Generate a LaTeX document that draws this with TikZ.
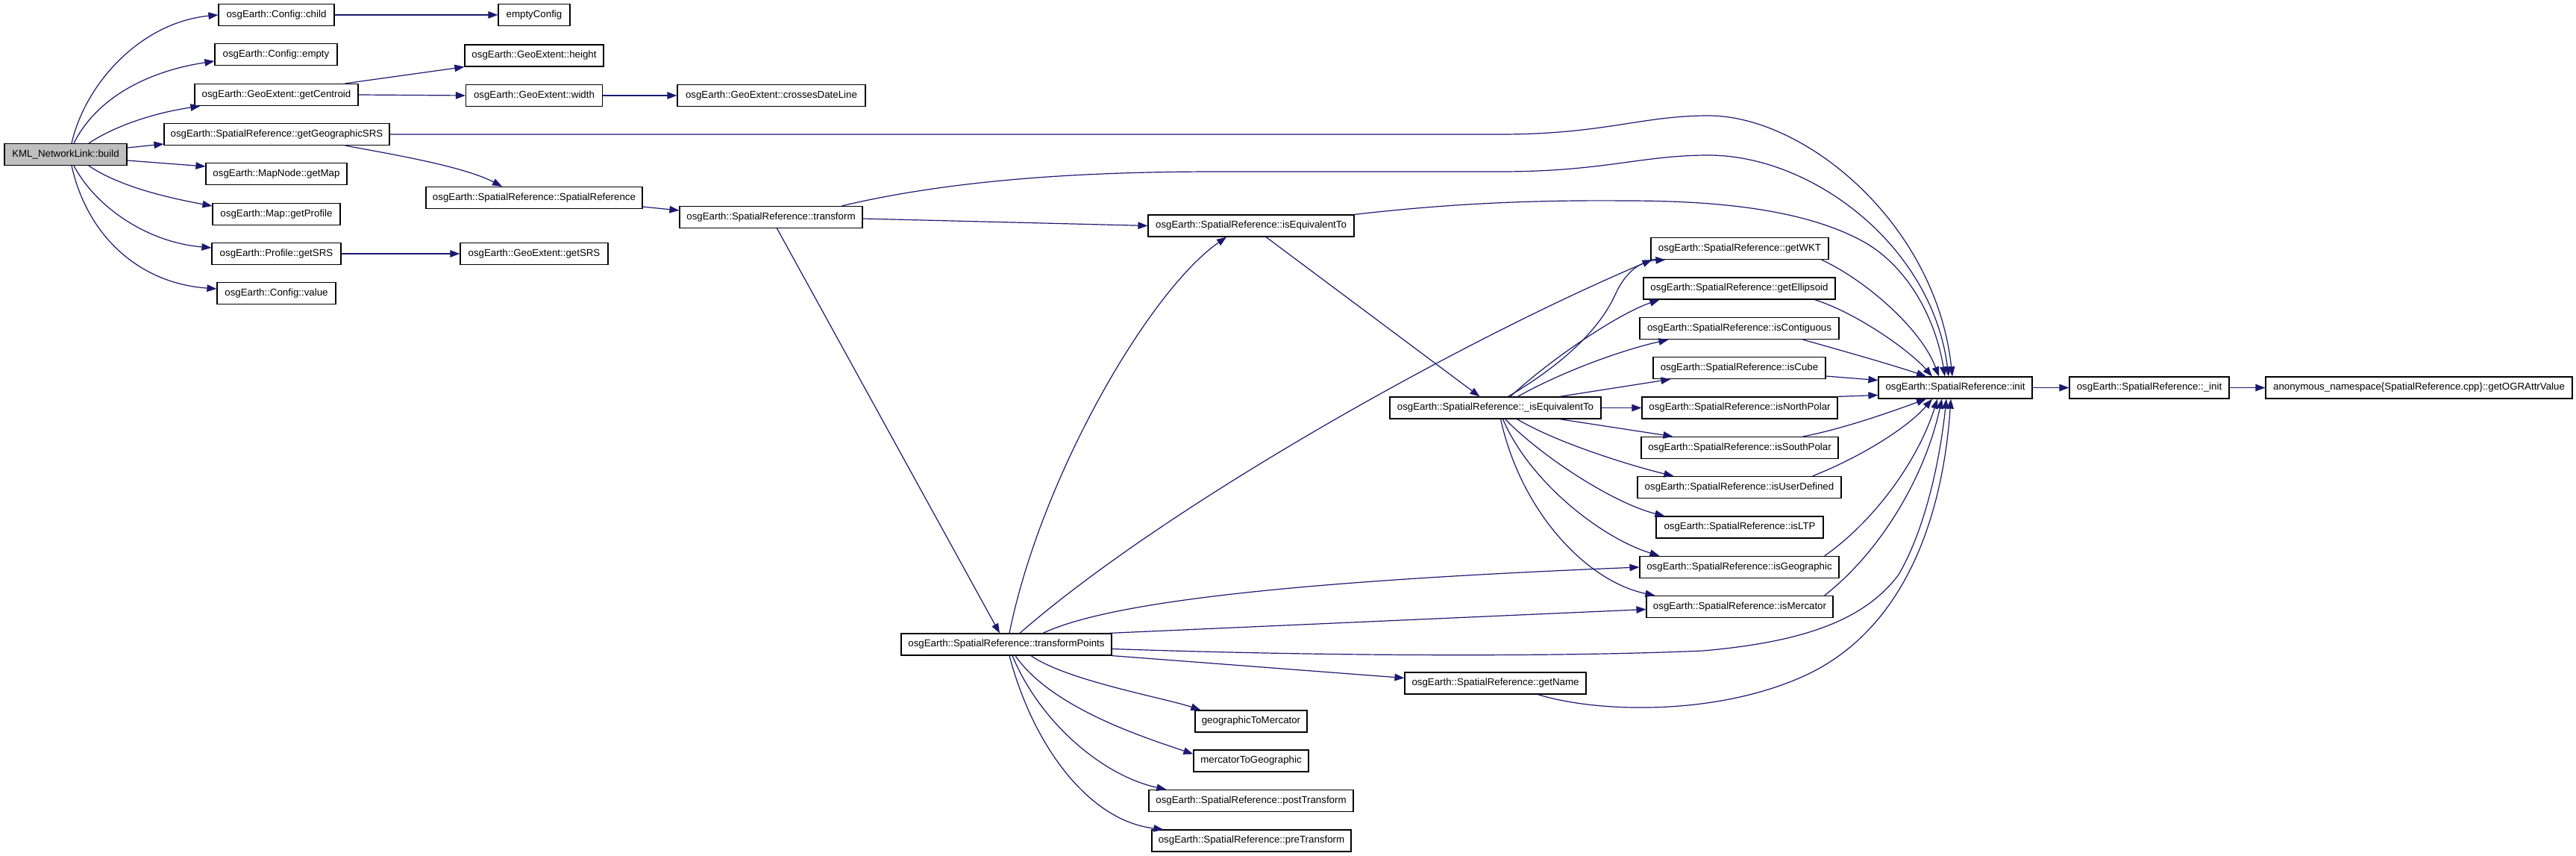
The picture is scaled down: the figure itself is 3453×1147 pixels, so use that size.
\documentclass[tikz,border=0pt]{standalone}
\usepackage{fontspec}
\setmainfont{Liberation Sans}
\usetikzlibrary{arrows.meta}
\definecolor{edgec}{HTML}{191970}
\definecolor{buildfill}{HTML}{BFBFBF}
\tikzset{
 fn/.style={draw=black, line width=1.2pt, fill=white, inner sep=0pt, minimum height=29pt, font=\fontsize{13.3}{16}\selectfont, anchor=center},
 edge/.style={draw=edgec, line width=1.2pt, -{Triangle[length=13pt,width=9.5pt]}},
}
\begin{document}
\begin{tikzpicture}[x=1pt,y=-1pt]
\useasboundingbox (0,0) rectangle (3453,1147);
\fill[white] (0,0) rectangle (3453,1147);
% nodes
\node[fn, minimum width=164pt, fill=buildfill] (build) at (88,207) {KML\_NetworkLink::build};
\node[fn, minimum width=155pt] (child) at (370.5,20) {osgEarth::Config::child};
\node[fn, minimum width=96pt] (emptyConfig) at (716,20) {emptyConfig};
\node[fn, minimum width=164pt] (cempty) at (370,73) {osgEarth::Config::empty};
\node[fn, minimum width=186pt] (gheight) at (716,74.5) {osgEarth::GeoExtent::height};
\node[fn, minimum width=219pt] (centroid) at (370.5,127) {osgEarth::GeoExtent::getCentroid};
\node[fn, minimum width=183pt] (gwidth) at (716,128) {osgEarth::GeoExtent::width};
\node[fn, minimum width=252pt] (dateline) at (1034,128) {osgEarth::GeoExtent::crossesDateLine};
\node[fn, minimum width=302pt] (geosrs) at (371,180) {osgEarth::SpatialReference::getGeographicSRS};
\node[fn, minimum width=189pt] (getmap) at (370.5,233) {osgEarth::MapNode::getMap};
\node[fn, minimum width=290pt] (ctor) at (716,265) {osgEarth::SpatialReference::SpatialReference};
\node[fn, minimum width=245pt] (transform) at (1033.5,291) {osgEarth::SpatialReference::transform};
\node[fn, minimum width=171pt] (profile) at (370.5,287) {osgEarth::Map::getProfile};
\node[fn, minimum width=173pt] (psrs) at (370.5,340) {osgEarth::Profile::getSRS};
\node[fn, minimum width=198pt] (gsrs) at (716,340) {osgEarth::GeoExtent::getSRS};
\node[fn, minimum width=159pt] (cvalue) at (370.5,393) {osgEarth::Config::value};
\node[fn, minimum width=276pt] (isequiv) at (1677,302.5) {osgEarth::SpatialReference::isEquivalentTo};
\node[fn, minimum width=283pt] (uisequiv) at (2004.5,546.5) {osgEarth::SpatialReference::\_isEquivalentTo};
\node[fn, minimum width=282pt] (tpoints) at (1349,863.5) {osgEarth::SpatialReference::transformPoints};
\node[fn, minimum width=243pt] (getname) at (2004.5,915.5) {osgEarth::SpatialReference::getName};
\node[fn, minimum width=150pt] (g2m) at (1677,966.5) {geographicToMercator};
\node[fn, minimum width=154pt] (m2g) at (1677,1019.5) {mercatorToGeographic};
\node[fn, minimum width=274pt] (postt) at (1677,1073) {osgEarth::SpatialReference::postTransform};
\node[fn, minimum width=267pt] (pret) at (1677.5,1126.5) {osgEarth::SpatialReference::preTransform};
\node[fn, minimum width=238pt] (wkt) at (2332,333) {osgEarth::SpatialReference::getWKT};
\node[fn, minimum width=257pt] (ellipsoid) at (2331.5,386.5) {osgEarth::SpatialReference::getEllipsoid};
\node[fn, minimum width=267pt] (contig) at (2331.5,440) {osgEarth::SpatialReference::isContiguous};
\node[fn, minimum width=231pt] (cube) at (2331.5,493) {osgEarth::SpatialReference::isCube};
\node[fn, minimum width=262pt] (npolar) at (2332,546.5) {osgEarth::SpatialReference::isNorthPolar};
\node[fn, minimum width=264pt] (spolar) at (2332,600) {osgEarth::SpatialReference::isSouthPolar};
\node[fn, minimum width=273pt] (userdef) at (2331.5,653) {osgEarth::SpatialReference::isUserDefined};
\node[fn, minimum width=224pt] (ltp) at (2332,706.5) {osgEarth::SpatialReference::isLTP};
\node[fn, minimum width=267pt] (geographic) at (2331.5,760) {osgEarth::SpatialReference::isGeographic};
\node[fn, minimum width=250pt] (mercator) at (2332,813) {osgEarth::SpatialReference::isMercator};
\node[fn, minimum width=206pt] (init) at (2621,519.5) {osgEarth::SpatialReference::init};
\node[fn, minimum width=214pt] (uinit) at (2881,519.5) {osgEarth::SpatialReference::\_init};
\node[fn, minimum width=411pt] (ogr) at (3242.5,519.5) {anonymous\_namespace\{SpatialReference.cpp\}::getOGRAttrValue};
% edges from build
\draw[edge] ([xshift=8pt]build.north) .. controls (115,110) and (190,30) .. (child.west);
\draw[edge] ([xshift=11pt]build.north) .. controls (130,130) and (200,95) .. ([yshift=-9pt]cempty.west);
\draw[edge] ([xshift=31pt]build.north) .. controls (160,165) and (215,150) .. ([xshift=8pt]centroid.south west);
\draw[edge] ([yshift=9pt]build.east) -- ([yshift=-13pt]geosrs.west);
\draw[edge] ([yshift=-8pt]build.east) -- ([yshift=10pt]getmap.west);
\draw[edge] ([xshift=31pt]build.south) .. controls (160,250) and (225,265) .. ([yshift=11pt]profile.west);
\draw[edge] ([xshift=11pt]build.south) .. controls (130,280) and (200,325) .. ([yshift=8pt]psrs.west);
\draw[edge] ([xshift=8pt]build.south) .. controls (118,320) and (190,380) .. ([yshift=6pt]cvalue.west);
% second column
\draw[edge] (child.east) -- (emptyConfig.west);
\draw[edge] ([xshift=92pt]centroid.north) -- (gheight.south west);
\draw[edge] (centroid.east) -- (gwidth.west);
\draw[edge] (gwidth.east) -- (dateline.west);
\draw[edge] (psrs.east) -- (gsrs.west);
\draw[edge] ([xshift=92pt]geosrs.south) .. controls (515,205) and (620,222) .. ([xshift=-43pt]ctor.north);
\draw[edge] (geosrs.east) -- (2011,180) .. controls (2150,180) and (2200,155) .. (2290,155) .. controls (2420,155) and (2595,300) .. ([xshift=-4pt]init.north);
\draw[edge] ([yshift=-12pt]ctor.east) -- ([yshift=9pt]transform.west);
\draw[edge] ([xshift=95pt]transform.north) .. controls (1300,235) and (1500,230) .. (1636,230) -- (2011,230) .. controls (2150,230) and (2200,208) .. (2290,208) .. controls (2430,208) and (2590,330) .. ([xshift=-9pt]init.north);
\draw[edge] ([yshift=-2pt]transform.east) -- (isequiv.west);
\draw[edge] ([xshift=8pt]transform.south) -- ([xshift=-9pt]tpoints.north);
\draw[edge] (isequiv.north east) .. controls (1950,272) and (2060,268) .. (2180,269) .. controls (2300,269) and (2420,280) .. (2500,325) .. controls (2560,360) and (2595,430) .. ([xshift=-14pt]init.north);
\draw[edge] ([xshift=20pt]isequiv.south) -- ([xshift=-21pt]uisequiv.north);
% from transformPoints
\draw[edge] ([xshift=4pt]tpoints.north) .. controls (1395,640) and (1540,390) .. ([xshift=-33pt]isequiv.south);
\draw[edge] ([xshift=18pt]tpoints.north) .. controls (1560,680) and (1950,460) .. ([xshift=2pt]wkt.south west);
\draw[edge] ([xshift=49pt]tpoints.north) .. controls (1480,810) and (1700,780) .. (geographic.west);
\draw[edge] ([xshift=-4pt]tpoints.north east) -- ([yshift=-3.5pt]mercator.west);
\draw[edge] ([yshift=-6pt]tpoints.east) .. controls (1800,880) and (2100,880) .. (2283,872) .. controls (2420,860) and (2500,830) .. (2545,770) .. controls (2580,710) and (2600,620) .. ([xshift=-12pt]init.south);
\draw[edge] (tpoints.south east) -- ([yshift=7pt]getname.west);
\draw[edge] ([xshift=33pt]tpoints.south) .. controls (1430,912) and (1560,935) .. ([xshift=8pt]g2m.north west);
\draw[edge] ([xshift=12pt]tpoints.south) .. controls (1410,950) and (1540,990) .. ([yshift=-6pt]m2g.north west);
\draw[edge] ([xshift=8pt]tpoints.south) .. controls (1395,970) and (1480,1040) .. ([xshift=24pt]postt.north west);
\draw[edge] ([xshift=4pt]tpoints.south) .. controls (1385,1000) and (1460,1100) .. ([xshift=16pt]pret.north west);
\draw[edge] ([xshift=57pt]getname.south) .. controls (2140,955) and (2300,960) .. (2420,905) .. controls (2560,840) and (2605,680) .. ([xshift=-6pt]init.south);
% from _isEquivalentTo
\draw[edge] ([xshift=17pt]uisequiv.north) .. controls (2080,497) and (2140,450) .. (2165,395) .. controls (2180,362) and (2200,350) .. ([xshift=20pt]wkt.south west);
\draw[edge] ([xshift=20pt]uisequiv.north) .. controls (2080,480) and (2170,420) .. ([xshift=22pt]ellipsoid.south west);
\draw[edge] ([xshift=30pt]uisequiv.north) .. controls (2090,500) and (2170,470) .. ([xshift=39pt]contig.south west);
\draw[edge] ([xshift=86pt]uisequiv.north) -- ([xshift=24pt]cube.south west);
\draw[edge] (uisequiv.east) -- (npolar.west);
\draw[edge] ([xshift=86pt]uisequiv.south) -- ([xshift=43pt]spolar.north west);
\draw[edge] ([xshift=29pt]uisequiv.south) .. controls (2090,595) and (2190,625) .. ([xshift=49pt]userdef.north west);
\draw[edge] ([xshift=13pt]uisequiv.south) .. controls (2070,615) and (2165,675) .. ([xshift=12pt]ltp.north west);
\draw[edge] ([xshift=10pt]uisequiv.south) .. controls (2050,645) and (2145,720) .. ([xshift=27pt]geographic.north west);
\draw[edge] ([xshift=7pt]uisequiv.south) .. controls (2040,690) and (2130,780) .. ([xshift=12pt]mercator.north west);
% into init
\draw[edge] ([xshift=-10pt]wkt.south east) .. controls (2500,375) and (2575,440) .. ([xshift=-22pt]init.north);
\draw[edge] ([xshift=-28pt]ellipsoid.south east) .. controls (2490,420) and (2560,470) .. ([xshift=-31pt]init.north);
\draw[edge] ([xshift=-49pt]contig.south east) .. controls (2470,470) and (2540,490) .. ([xshift=-39pt]init.north);
\draw[edge] ([yshift=-11pt]cube.east) -- ([yshift=10pt]init.west);
\draw[edge] (npolar.north east) -- ([yshift=-10pt]init.west);
\draw[edge] ([xshift=-48pt]spolar.north east) .. controls (2470,575) and (2540,550) .. ([xshift=-39pt]init.south);
\draw[edge] ([xshift=-39pt]userdef.north east) .. controls (2500,610) and (2560,570) .. ([xshift=-31pt]init.south);
\draw[edge] ([xshift=-20pt]geographic.north east) .. controls (2510,700) and (2570,620) .. ([xshift=-24pt]init.south);
\draw[edge] ([xshift=-12pt]mercator.north east) .. controls (2520,740) and (2580,640) .. ([xshift=-18pt]init.south);
\draw[edge] (init.east) -- (uinit.west);
\draw[edge] (uinit.east) -- (ogr.west);
\end{tikzpicture}
\end{document}
